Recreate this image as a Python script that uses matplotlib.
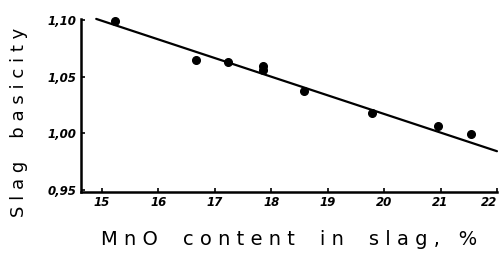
import matplotlib
matplotlib.use("Agg")
import matplotlib.pyplot as plt

# data
mno = [15.23, 16.67, 17.23, 17.85, 17.85, 18.58, 19.78, 20.95, 21.54]
basicity = [1.099, 1.065, 1.063, 1.059, 1.056, 1.037, 1.018, 1.006, 0.999]
fit_x = [14.9, 22.0]
fit_y = [1.101, 0.984]
xticks = [15, 16, 17, 18, 19, 20, 21, 22]
yticks = [0.95, 1.00, 1.05, 1.10]
ytick_labels = ["0,95", "1,00", "1,05", "1,10"]

fig = plt.figure(figsize=(5.03, 2.59), dpi=100)
ax = fig.add_axes([0.161, 0.259, 0.827, 0.668])

ax.plot(fit_x, fit_y, color="black", lw=1.6, solid_capstyle="round", clip_on=False)
ax.plot(mno, basicity, "o", color="black", ms=5.5, clip_on=False)

ax.set_xlim(14.63, 22.0)
ax.set_ylim(0.948, 1.101)
ax.set_xticks(xticks)
ax.set_xticklabels([str(t) for t in xticks], fontstyle="italic", fontweight="bold", fontsize=8.5)
ax.get_xticklabels()[-1].set_horizontalalignment("right")
ax.set_yticks(yticks)
ax.set_yticklabels(ytick_labels, fontstyle="italic", fontweight="bold", fontsize=8.5)
ax.tick_params(axis="both", direction="in", length=3, width=1.2, pad=3)

for s in ["top", "right"]:
    ax.spines[s].set_visible(False)
for s in ["left", "bottom"]:
    ax.spines[s].set_linewidth(1.8)

ax.set_xlabel("M n O    c o n t e n t    i n    s l a g ,   %", fontsize=14)
ax.xaxis.set_label_coords(0.50, -0.22)
ax.xaxis.label.set_verticalalignment("top")
ax.set_ylabel("S l a g    b a s i c i t y", fontsize=13)
ax.yaxis.set_label_coords(-0.128, 0.40)

fig.savefig("out.png", dpi=100)
